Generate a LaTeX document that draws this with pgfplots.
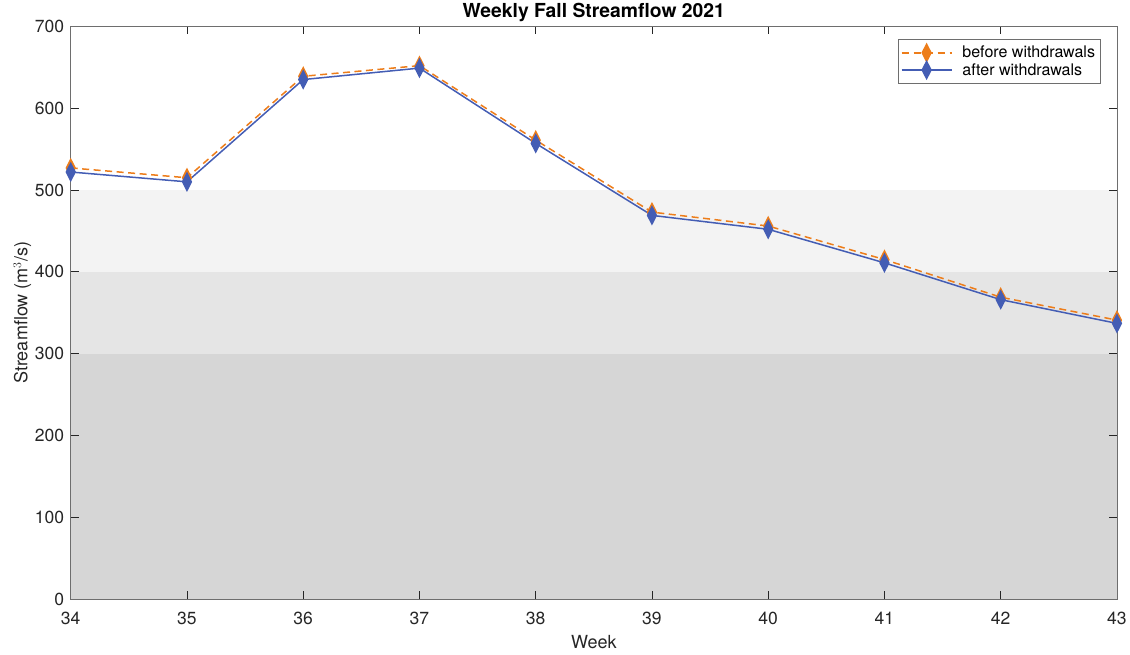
\documentclass[border=0pt]{standalone}
\usepackage{pgfplots}
\pgfplotsset{compat=1.18}
\usepackage{fontspec}
\setmainfont{TeX Gyre Heros}
\definecolor{myorange}{RGB}{237,125,26}
\definecolor{myblue}{RGB}{68,93,180}
\definecolor{band1}{RGB}{214,214,214}
\definecolor{band2}{RGB}{229,229,229}
\definecolor{band3}{RGB}{243,243,243}
\definecolor{axgray}{RGB}{110,110,110}
\begin{document}
\begin{tikzpicture}[x=1bp,y=1bp]
\begin{axis}[
  scale only axis,
  width=1045bp, height=572bp,
  xmin=34, xmax=43, ymin=0, ymax=700,
  xtick={34,...,43}, ytick={0,100,...,700},
  tick align=inside,
  major tick length=8bp,
  axis line style={axgray, line width=0.7bp},
  tick style={black!85, line width=0.7bp},
  /pgf/number format/assume math mode=true,
  ticklabel style={font=\fontsize{17.5bp}{20bp}\selectfont, text=black!85},
  xticklabel style={yshift=-9bp},
  yticklabel style={xshift=-3bp},
  label style={font=\fontsize{18bp}{21bp}\selectfont, text=black!85},
  title style={font=\fontsize{19.3bp}{22bp}\selectfont\bfseries, yshift=-5bp},
  title={Weekly Fall Streamflow 2021},
  xlabel={Week},
  ylabel={Streamflow (m$^3$/s)},
  xlabel style={yshift=-4bp},
  ylabel style={yshift=-3bp},
  axis on top,
  legend style={at={(0.984,0.978)}, anchor=north east, draw=axgray,
    font=\fontsize{16bp}{19bp}\selectfont, inner xsep=3bp, inner ysep=5bp, row sep=0bp},
  legend cell align=left,
]
\addplot[fill=band1, draw=none, forget plot] coordinates {(34,0) (43,0) (43,300) (34,300)} -- cycle;
\addplot[fill=band2, draw=none, forget plot] coordinates {(34,300) (43,300) (43,400) (34,400)} -- cycle;
\addplot[fill=band3, draw=none, forget plot] coordinates {(34,400) (43,400) (43,500) (34,500)} -- cycle;
\addplot[color=myorange, line width=1.5bp, dash pattern=on 7bp off 4.5bp, mark=diamond*, mark size=8.5bp,
  mark options={solid, fill=myorange, draw=myorange, xscale=0.68},
  legend image code/.code={
    \draw[myorange, line width=1.5bp, dash pattern=on 7bp off 5bp] (0bp,0bp) -- (50bp,0bp);
    \draw[myorange, fill=myorange, solid] plot[mark=diamond*, mark size=8.5bp, mark options={xscale=0.68}] coordinates {(25bp,0bp)};
    \path (58bp,0bp);}
  ] coordinates {
(34,527) (35,515) (36,639) (37,652) (38,561) (39,473) (40,456) (41,415) (42,369) (43,341)};
\addlegendentry{before withdrawals}
\addplot[color=myblue, line width=1.5bp, mark=diamond*, mark size=8.5bp,
  mark options={solid, fill=myblue, draw=myblue, xscale=0.68},
  legend image code/.code={
    \draw[myblue, line width=1.5bp] (0bp,0bp) -- (50bp,0bp);
    \draw[myblue, fill=myblue] plot[mark=diamond*, mark size=8.5bp, mark options={xscale=0.68}] coordinates {(25bp,0bp)};
    \path (58bp,0bp);}
  ] coordinates {
(34,522) (35,510) (36,635) (37,649) (38,557) (39,469) (40,452) (41,411) (42,366) (43,337)};
\addlegendentry{after withdrawals}
\end{axis}
\path ([xshift=-10bp,yshift=-3bp]current axis.outer south west);
\end{tikzpicture}
\end{document}
